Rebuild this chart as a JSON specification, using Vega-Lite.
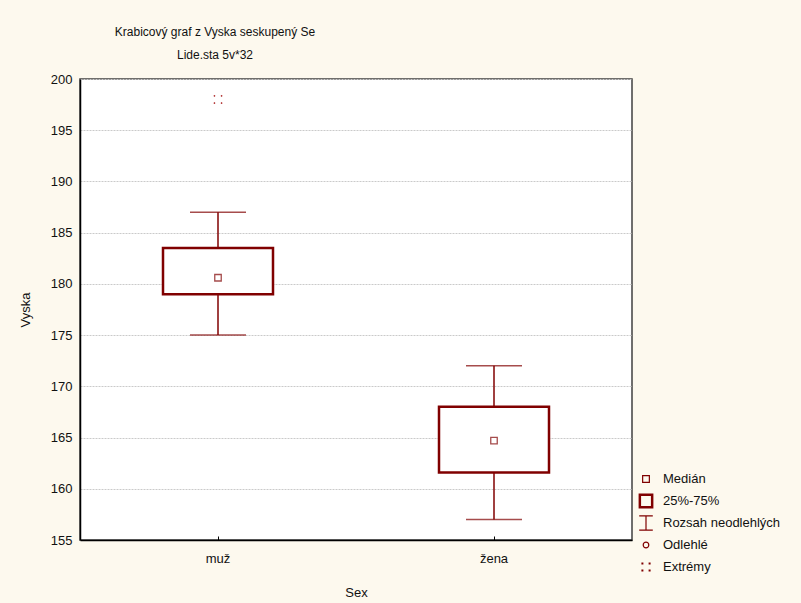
{
  "$schema": "https://vega.github.io/schema/vega-lite/v6.json",
  "width": 552,
  "height": 461,
  "autosize": {"type": "none"},
  "padding": {"left": 80, "top": 79, "right": 169, "bottom": 63},
  "background": "#FDF9EE",
  "title": {
    "text": "Krabicový graf z Vyska seskupený Se",
    "subtitle": "Lide.sta 5v*32",
    "anchor": "middle",
    "dx": -141,
    "offset": 11,
    "font": "Liberation Sans",
    "fontSize": 12,
    "fontWeight": "normal",
    "color": "#111111",
    "subtitleFont": "Liberation Sans",
    "subtitleFontSize": 12,
    "subtitleColor": "#111111",
    "subtitlePadding": 11
  },
  "config": {
    "view": {"stroke": "#404040", "strokeWidth": 1.5, "fill": "white"},
    "font": "Liberation Sans",
    "axis": {
      "labelFont": "Liberation Sans",
      "labelFontSize": 13,
      "labelColor": "#111111",
      "titleFont": "Liberation Sans",
      "titleFontSize": 13,
      "titleFontWeight": "normal",
      "titleColor": "#111111",
      "domainColor": "#000000",
      "domainWidth": 1.5
    },
    "legend": {
      "labelFont": "Liberation Sans",
      "labelFontSize": 13,
      "labelColor": "#111111"
    }
  },
  "datasets": {
    "boxes": [
      {"Sex": "muž", "min": 175, "q1": 179.0, "median": 180.6, "q3": 183.5, "max": 187},
      {"Sex": "žena", "min": 157, "q1": 161.6, "median": 164.7, "q3": 168.0, "max": 172}
    ],
    "extremes": [
      {"Sex": "muž", "Vyska": 198, "kind": "Extrémy"}
    ]
  },
  "encoding": {
    "x": {
      "field": "Sex",
      "type": "nominal",
      "sort": ["muž", "žena"],
      "scale": {"domain": ["muž", "žena"], "paddingInner": 0, "paddingOuter": 0},
      "axis": {
        "title": "Sex",
        "labelAngle": 0,
        "ticks": true,
        "tickSize": -4,
        "tickColor": "#000000",
        "labelPadding": 16,
        "titlePadding": 21,
        "grid": false
      }
    }
  },
  "layer": [
    {
      "data": {"name": "boxes"},
      "mark": {"type": "rule", "color": "#800000", "strokeWidth": 1.5},
      "encoding": {
        "y": {
          "field": "min",
          "type": "quantitative",
          "scale": {"domain": [155, 200], "nice": false, "zero": false},
          "axis": {
            "title": "Vyska",
            "values": [155, 160, 165, 170, 175, 180, 185, 190, 195, 200],
            "ticks": false,
            "labelPadding": 8,
            "titlePadding": 18,
            "grid": true,
            "gridColor": "#CACACA",
            "gridDash": [2, 1],
            "gridWidth": 1
          }
        },
        "y2": {"field": "max"}
      }
    },
    {
      "data": {"name": "boxes"},
      "mark": {"type": "tick", "color": "#800000", "thickness": 1.5, "size": 56, "orient": "horizontal"},
      "encoding": {"y": {"field": "min", "type": "quantitative"}}
    },
    {
      "data": {"name": "boxes"},
      "mark": {"type": "tick", "color": "#800000", "thickness": 1.5, "size": 56, "orient": "horizontal"},
      "encoding": {"y": {"field": "max", "type": "quantitative"}}
    },
    {
      "data": {"name": "boxes"},
      "mark": {"type": "bar", "fill": "white", "stroke": "#800000", "strokeWidth": 2.5, "width": 110},
      "encoding": {
        "y": {"field": "q1", "type": "quantitative"},
        "y2": {"field": "q3"}
      }
    },
    {
      "data": {"name": "boxes"},
      "mark": {"type": "point", "shape": "square", "size": 42, "fill": "white", "filled": true, "stroke": "#800000", "strokeWidth": 1.3},
      "encoding": {"y": {"field": "median", "type": "quantitative"}}
    },
    {
      "data": {"name": "extremes"},
      "mark": {"type": "point", "filled": false, "color": "#B03030", "size": 256, "strokeWidth": 1.0, "opacity": 1},
      "encoding": {
        "y": {"field": "Vyska", "type": "quantitative"},
        "shape": {
          "field": "kind",
          "type": "nominal",
          "scale": {
            "domain": ["Medián", "25%-75%", "Rozsah neodlehlých", "Odlehlé", "Extrémy"],
            "range": [
              "M-0.42,-0.42H0.42V0.42H-0.42Z",
              "M-0.85,-0.85H0.85V0.85H-0.85Z M-0.77,-0.77H0.77V0.77H-0.77Z M-0.69,-0.69H0.69V0.69H-0.69Z",
              "M-0.85,-0.9H0.85 M0,-0.9V0.9 M-0.85,0.9H0.85",
              "M-0.35,0A0.35,0.35,0,1,0,0.35,0A0.35,0.35,0,1,0,-0.35,0Z",
              "M-0.5,-0.5h0.1v0.1h-0.1Z M0.4,-0.5h0.1v0.1h-0.1Z M-0.5,0.4h0.1v0.1h-0.1Z M0.4,0.4h0.1v0.1h-0.1Z"
            ]
          },
          "legend": {
            "title": null,
            "orient": "none",
            "legendX": 557,
            "legendY": 391,
            "padding": 0,
            "gridAlign": "all",
            "symbolSize": 256,
            "symbolStrokeWidth": 1.2,
            "symbolStrokeColor": "#800000",
            "symbolFillColor": "transparent",
            "labelOffset": 8,
            "rowPadding": 2,
            "labelLimit": 300
          }
        }
      }
    }
  ]
}
